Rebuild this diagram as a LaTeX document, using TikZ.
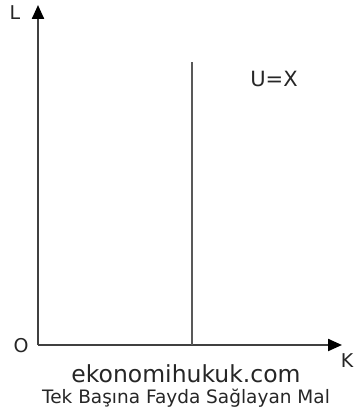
\documentclass[tikz,border=0pt]{standalone}
\usepackage{fontspec}
\setmainfont{DejaVu Sans}
\usetikzlibrary{arrows.meta}
\begin{document}
\begin{tikzpicture}[x=1pt,y=1pt,
  axis/.style={line width=2.2pt,color=black!75,-{Triangle[length=14pt,width=12pt,color=black]}},
  lbl/.style={inner sep=0pt,text=black!85,font=\fontsize{19}{19}\selectfont}]
\useasboundingbox (0,0) rectangle (354,419);
\coordinate (O) at (38,74);
\coordinate (Ytop) at (38,414);
\coordinate (Xend) at (342,74);
\coordinate (Vtop) at (192,357);
\coordinate (Vbot) at (192,74);
\draw[axis] (O) -- (Ytop);
\draw[axis] (O) -- (Xend);
\draw[line width=1.8pt,color=black!65] (Vbot) -- (Vtop);
\node[lbl] (L) at (15,406) {L};
\node[lbl] (Olbl) at (21,73) {O};
\node[lbl] (K) at (347,58) {K};
\node[lbl,font=\fontsize{21}{21}\selectfont] (U) at (274,340) {U=X};
\node[lbl,font=\fontsize{23.5}{23.5}\selectfont] (site) at (186,45) {ekonomihukuk.com};
\node[lbl,font=\fontsize{18.5}{18.5}\selectfont] (cap) at (186,21) {Tek Başına Fayda Sağlayan Mal};
\end{tikzpicture}
\end{document}
